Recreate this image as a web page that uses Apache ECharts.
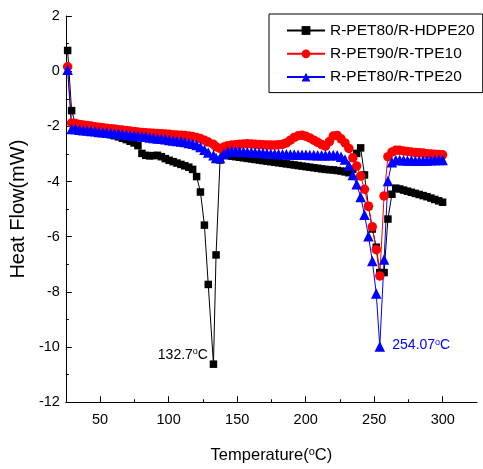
<!DOCTYPE html>
<html>
<head>
<meta charset="utf-8">
<script src="https://cdn.jsdelivr.net/npm/echarts@6/dist/echarts.min.js"></script>
<style>
html,body{margin:0;padding:0;background:#fff;}
#chart{width:483px;height:469px;}
</style>
</head>
<body>
<div id="chart"></div>
<script>
// Temperature grid (°C), shared by the three DSC curves
const temperature = [
  26.3, 29.2, 32.0, 34.9, 37.7, 40.6, 43.4, 46.3, 49.1, 52.0,
  54.8, 57.7, 60.5, 63.4, 66.2, 69.1, 71.9, 74.8, 77.6, 80.5,
  83.3, 86.2, 89.0, 91.9, 94.7, 97.6, 100.4, 103.3, 106.1, 109.0,
  111.8, 114.7, 117.5, 120.4, 123.2, 126.1, 128.9, 132.7, 134.6, 137.5,
  140.3, 143.2, 146.0, 148.9, 151.7, 154.6, 157.4, 160.3, 163.1, 166.0,
  168.8, 171.7, 174.5, 177.4, 180.2, 183.1, 185.9, 188.8, 191.6, 194.5,
  197.3, 200.2, 203.0, 205.9, 208.7, 211.6, 214.4, 217.3, 220.1, 223.0,
  225.8, 228.7, 231.5, 234.4, 237.2, 240.1, 242.9, 245.8, 248.6, 251.5,
  254.07, 257.2, 260.0, 262.9, 265.7, 268.6, 271.4, 274.3, 277.1, 280.0,
  282.8, 285.7, 288.5, 291.4, 294.2, 297.1, 299.9
];
// Heat flow (mW)
const hdpe20 = [
  0.75, -1.43, -1.90, -2.00, -2.05, -2.08, -2.12, -2.15, -2.19, -2.22,
  -2.26, -2.30, -2.34, -2.38, -2.43, -2.48, -2.54, -2.60, -2.70, -2.98,
  -3.05, -3.07, -3.06, -3.05, -3.10, -3.17, -3.23, -3.28, -3.33, -3.38,
  -3.43, -3.48, -3.56, -3.82, -4.38, -5.58, -7.73, -10.62, -6.66, -3.22,
  -3.04, -3.06, -3.08, -3.10, -3.12, -3.14, -3.16, -3.18, -3.20, -3.22,
  -3.24, -3.26, -3.28, -3.30, -3.32, -3.34, -3.36, -3.38, -3.40, -3.42,
  -3.44, -3.46, -3.48, -3.50, -3.52, -3.54, -3.56, -3.57, -3.58, -3.60,
  -3.62, -3.65, -3.68, -3.55, -2.98, -2.78, -3.76, -4.90, -5.72, -6.38,
  -7.30, -7.30, -5.36, -4.46, -4.24, -4.27, -4.31, -4.35, -4.39, -4.43,
  -4.47, -4.51, -4.55, -4.60, -4.65, -4.70, -4.75
];
const tpe10 = [
  0.16, -1.88, -1.90, -1.93, -1.95, -1.97, -1.99, -2.01, -2.03, -2.05,
  -2.07, -2.09, -2.10, -2.12, -2.13, -2.15, -2.17, -2.19, -2.20, -2.22,
  -2.23, -2.24, -2.25, -2.26, -2.27, -2.28, -2.29, -2.30, -2.31, -2.32,
  -2.33, -2.35, -2.37, -2.40, -2.44, -2.50, -2.57, -2.65, -2.74, -2.80,
  -2.75, -2.70, -2.68, -2.67, -2.65, -2.64, -2.63, -2.64, -2.65, -2.66,
  -2.67, -2.68, -2.68, -2.68, -2.67, -2.65, -2.60, -2.50, -2.40, -2.34,
  -2.32, -2.36, -2.42, -2.50, -2.58, -2.66, -2.72, -2.55, -2.35, -2.33,
  -2.45, -2.60, -2.80, -3.14, -3.44, -3.80, -4.28, -4.90, -5.64, -6.47,
  -7.42, -4.52, -3.10, -2.93, -2.87, -2.87, -2.89, -2.91, -2.93, -2.95,
  -2.96, -2.97, -2.99, -3.00, -3.01, -3.02, -3.03
];
const tpe20 = [
  0.05, -2.10, -2.10, -2.12, -2.14, -2.15, -2.17, -2.18, -2.20, -2.21,
  -2.23, -2.24, -2.26, -2.27, -2.29, -2.30, -2.32, -2.33, -2.35, -2.37,
  -2.38, -2.40, -2.42, -2.44, -2.45, -2.47, -2.49, -2.51, -2.53, -2.55,
  -2.57, -2.60, -2.63, -2.68, -2.75, -2.85, -2.95, -3.05, -3.15, -3.15,
  -3.00, -2.92, -2.90, -2.90, -2.91, -2.92, -2.93, -2.94, -2.95, -2.96,
  -2.97, -2.98, -2.99, -3.00, -3.00, -3.01, -3.01, -3.02, -3.02, -3.03,
  -3.03, -3.03, -3.04, -3.04, -3.05, -3.05, -3.05, -3.05, -3.04, -3.05,
  -3.10, -3.20, -3.42, -3.76, -4.10, -4.56, -5.20, -5.98, -6.88, -8.06,
  -9.98, -6.83, -3.98, -3.30, -3.22, -3.22, -3.23, -3.24, -3.24, -3.25,
  -3.25, -3.25, -3.24, -3.23, -3.22, -3.22, -3.22
];
const seriesNames = ['R-PET80/R-HDPE20', 'R-PET90/R-TPE10', 'R-PET80/R-TPE20'];
const xMajorTicks = [50, 100, 150, 200, 250, 300];
const xMinorTicks = [75, 125, 175, 225, 275];
const peakLabels = ['132.7', '254.07'];

const SANS = '"Liberation Sans", Arial, sans-serif';

function zip(xs, ys) { return xs.map((x, i) => [x, ys[i]]); }
function argmin(a) { let k = 0; for (let i = 1; i < a.length; i++) if (a[i] < a[k]) k = i; return k; }

const supRich = (size, color) => ({
  s: { fontSize: Math.round(size * 0.65), lineHeight: Math.round(size * 0.65), verticalAlign: 'top', color: color, fontFamily: SANS },
  n: { fontSize: size, lineHeight: size + 2, color: color, fontFamily: SANS }
});

const kB = argmin(hdpe20);
const kT = argmin(tpe20);

const chart = echarts.init(document.getElementById('chart'), null, { renderer: 'canvas' });
chart.setOption({
  animation: false,
  backgroundColor: '#fff',
  grid: { left: 65, right: 6, top: 16, bottom: 65, containLabel: false },
  legend: {
    orient: 'vertical',
    left: 269, top: 14,
    padding: [8, 8, 7, 17],
    itemWidth: 38, itemHeight: 11, itemGap: 6.3,
    borderColor: '#000', borderWidth: 1, borderRadius: 0,
    textStyle: { fontFamily: SANS, fontSize: 15.5, lineHeight: 17, color: '#000' },
    data: seriesNames
  },
  xAxis: [{
    type: 'value', min: 25, max: 325,
    name: '{n|Temperature(}{s|o}{n|C)}',
    nameLocation: 'middle', nameGap: 44,
    nameTextStyle: { rich: supRich(16.5, '#000') },
    axisLine: { show: true, onZero: false, lineStyle: { color: '#000', width: 1 } },
    axisTick: { show: true, inside: true, length: 6, customValues: xMajorTicks, lineStyle: { color: '#000' } },
    axisLabel: { show: true, customValues: xMajorTicks, margin: 10, fontFamily: SANS, fontSize: 14.5, color: '#000' },
    splitLine: { show: false }
  }, {
    type: 'value', min: 25, max: 325, position: 'bottom',
    axisLine: { show: false, onZero: false },
    axisTick: { show: true, inside: true, length: 3, customValues: xMinorTicks, lineStyle: { color: '#000' } },
    axisLabel: { show: false },
    splitLine: { show: false }
  }],
  yAxis: {
    type: 'value', min: -12, max: 2, interval: 2,
    name: 'Heat Flow(mW)',
    nameLocation: 'middle', nameGap: 35,
    nameTextStyle: { fontFamily: SANS, fontSize: 20, color: '#000' },
    axisLine: { show: true, onZero: false, lineStyle: { color: '#000', width: 1 } },
    axisTick: { show: true, inside: true, length: 6, lineStyle: { color: '#000' } },
    minorTick: { show: true, splitNumber: 2, length: 3, lineStyle: { color: '#000' } },
    axisLabel: { margin: 6, fontFamily: SANS, fontSize: 14.5, color: '#000' },
    splitLine: { show: false }, minorSplitLine: { show: false }
  },
  series: [{
    name: seriesNames[0], type: 'line', xAxisIndex: 0,
    data: zip(temperature, hdpe20),
    symbol: 'rect', symbolSize: 7.5, showAllSymbol: true,
    lineStyle: { color: '#000', width: 1 }, itemStyle: { color: '#000' },
    markPoint: {
      silent: true, symbol: 'circle', symbolSize: 1, itemStyle: { color: 'rgba(0,0,0,0)' },
      label: { show: true, position: 'left', distance: 5, offset: [0, -9], formatter: '{n|' + peakLabels[0] + '}{s|o}{n|C}', rich: supRich(14, '#000') },
      data: [{ coord: [temperature[kB], hdpe20[kB]] }]
    }
  }, {
    name: seriesNames[1], type: 'line', xAxisIndex: 0,
    data: zip(temperature, tpe10),
    symbol: 'circle', symbolSize: 9.5, showAllSymbol: true,
    lineStyle: { color: '#ff0000', width: 1 }, itemStyle: { color: '#ff0000' }
  }, {
    name: seriesNames[2], type: 'line', xAxisIndex: 0,
    data: zip(temperature, tpe20),
    symbol: 'triangle', symbolSize: 10.5, showAllSymbol: true,
    lineStyle: { color: '#0000ff', width: 1 }, itemStyle: { color: '#0000ff' },
    markPoint: {
      silent: true, symbol: 'circle', symbolSize: 1, itemStyle: { color: 'rgba(0,0,0,0)' },
      label: { show: true, position: 'right', distance: 12, offset: [0, -1], formatter: '{n|' + peakLabels[1] + '}{s|o}{n|C}', rich: supRich(14, '#0000ff') },
      data: [{ coord: [temperature[kT], tpe20[kT]] }]
    }
  }]
});
</script>
</body>
</html>
